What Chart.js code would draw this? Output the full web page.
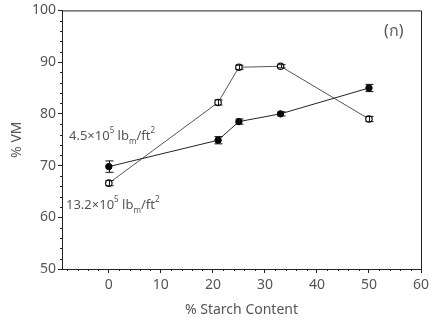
<!DOCTYPE html>
<html lang="th">
<head>
  <meta charset="UTF-8" />
  <title>% VM vs % Starch Content</title>
  <script src="https://cdn.jsdelivr.net/npm/chart.js"></script>
  <style>
    body { margin: 0; background: #ffffff; }
    #wrap { width: 445px; height: 322px; }
  </style>
</head>
<body>
<div id="wrap"><canvas id="vmChart" width="445" height="322"></canvas></div>
<script>
  // data
  const starch = [0, 21, 25, 33, 50];
  const vmLow = [69.8, 74.9, 78.5, 80.0, 85.0];     // 4.5x10^5 lbm/ft2 (filled)
  const vmLowErr = [1.1, 0.7, 0.5, 0.4, 0.7];
  const vmHigh = [66.6, 82.2, 89.0, 89.2, 79.0];    // 13.2x10^5 lbm/ft2 (open)
  const vmHighErr = [0.5, 0.5, 0.4, 0.3, 0.5];
  const xTicks = [0, 10, 20, 30, 40, 50, 60];
  const yTicks = [50, 60, 70, 80, 90, 100];

  const textColor = '#555';
  const fontFam = "'Noto Sans', 'Open Sans', sans-serif";

  function pts(xs, ys) {
    return xs.map((x, i) => ({ x: x, y: ys[i] }));
  }

  // error bars, minor ticks, frame and the labels in the plot
  const extras = {
    id: 'extras',
    afterDatasetsDraw(chart) {
      const ctx = chart.ctx;
      const xs = chart.scales.x, ys = chart.scales.y;
      const a = chart.chartArea;
      ctx.save();
      // error bars
      const sets = [[vmLow, vmLowErr], [vmHigh, vmHighErr]];
      ctx.strokeStyle = '#111';
      ctx.lineWidth = 1;
      sets.forEach(([vals, errs]) => {
        starch.forEach((s, i) => {
          const px = Math.round(xs.getPixelForValue(s)) + 0.5;
          const top = ys.getPixelForValue(vals[i] + errs[i]);
          const bot = ys.getPixelForValue(vals[i] - errs[i]);
          ctx.beginPath();
          ctx.moveTo(px, top); ctx.lineTo(px, bot);
          ctx.moveTo(px - 4, top); ctx.lineTo(px + 4, top);
          ctx.moveTo(px - 4, bot); ctx.lineTo(px + 4, bot);
          ctx.stroke();
        });
      });
      // frame
      ctx.strokeStyle = '#222';
      ctx.beginPath();
      ctx.moveTo(a.left, a.top + 0.5); ctx.lineTo(a.right + 0.5, a.top + 0.5);
      ctx.lineTo(a.right + 0.5, a.bottom);
      ctx.stroke();
      // minor ticks
      ctx.beginPath();
      for (let v = -8; v <= 60; v += 2) {
        if (v % 10 === 0) continue;
        const px = Math.round(xs.getPixelForValue(v)) + 0.5;
        ctx.moveTo(px, a.bottom); ctx.lineTo(px, a.bottom + 2);
      }
      for (let v = 52; v < 100; v += 2) {
        if (v % 10 === 0) continue;
        const py = Math.round(ys.getPixelForValue(v)) + 0.5;
        ctx.moveTo(a.left, py); ctx.lineTo(a.left - 2, py);
      }
      ctx.stroke();
      // pressure labels with super/subscripts
      ctx.fillStyle = textColor;
      ctx.textBaseline = 'alphabetic';
      function label(x, y, base) {
        const parts = [
          [base + '\u00d710', 0, 13],
          ['5', -7, 8],
          [' lb', 0, 13],
          ['m', 4, 8],
          ['/ft', 0, 13],
          ['2', -7, 8]
        ];
        let cx = x;
        parts.forEach(([t, dy, sz]) => {
          ctx.font = sz + 'px ' + fontFam;
          ctx.fillText(t, cx, y + dy);
          cx += ctx.measureText(t).width;
        });
      }
      label(69, 140, '4.5');
      label(66, 209, '13.2');
      // panel label
      ctx.font = '16px ' + fontFam;
      ctx.fillText('(\u0e01)', 384, 36);
      ctx.restore();
    }
  };

  new Chart(document.getElementById('vmChart'), {
    type: 'scatter',
    data: {
      datasets: [
        {
          label: '4.5x10^5 lbm/ft2',
          data: pts(starch, vmLow),
          showLine: true,
          borderColor: '#222',
          borderWidth: 1,
          pointBackgroundColor: '#000',
          pointBorderColor: '#000',
          pointRadius: 3.2,
          pointHoverRadius: 3.2
        },
        {
          label: '13.2x10^5 lbm/ft2',
          data: pts(starch, vmHigh),
          showLine: true,
          borderColor: '#555',
          borderWidth: 1,
          pointBackgroundColor: '#fff',
          pointBorderColor: '#111',
          pointBorderWidth: 1.2,
          pointRadius: 3.2,
          pointHoverRadius: 3.2
        }
      ]
    },
    options: {
      responsive: false,
      animation: false,
      layout: { padding: { top: 10, right: 24, left: 0, bottom: 0 } },
      plugins: { legend: { display: false }, tooltip: { enabled: false } },
      scales: {
        x: {
          type: 'linear',
          min: -9,
          max: 60,
          afterBuildTicks: s => { s.ticks = xTicks.map(v => ({ value: v })); },
          afterFit: s => { s.height = 53; },
          border: { color: '#222', width: 1 },
          grid: { drawOnChartArea: false, drawTicks: true, tickLength: 4, color: '#222' },
          ticks: { color: textColor, font: { family: fontFam, size: 14 }, padding: 4, maxRotation: 0 },
          title: { display: true, text: '% Starch Content', color: textColor, font: { family: fontFam, size: 14 }, padding: { top: 4 } }
        },
        y: {
          min: 50,
          max: 100,
          afterBuildTicks: s => { s.ticks = yTicks.map(v => ({ value: v })); },
          afterFit: s => { s.width = 62; },
          border: { color: '#222', width: 1 },
          grid: { drawOnChartArea: false, drawTicks: true, tickLength: 4, color: '#222' },
          ticks: { color: textColor, font: { family: fontFam, size: 14 }, padding: 2 },
          title: { display: true, text: '% VM', color: textColor, font: { family: fontFam, size: 14 }, padding: { top: 9, bottom: 4 } }
        }
      }
    },
    plugins: [extras]
  });
</script>
</body>
</html>
